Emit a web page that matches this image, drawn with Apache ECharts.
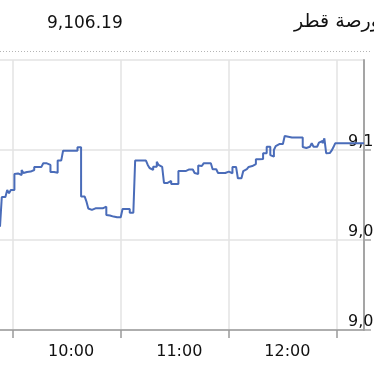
<!DOCTYPE html>
<html>
<head>
<meta charset="utf-8">
<script src="https://cdn.jsdelivr.net/npm/echarts@6/dist/echarts.min.js"></script>
<style>
html,body{margin:0;padding:0;background:#fff;}
#chart{width:374px;height:366px;}
</style>
</head>
<body>
<div id="chart"></div>
<script>
// Header
var titleText = "بورصة قطر";
var lastValue = "9,106.19";

// Time categories: one per minute from 9:23 to 12:45
var startMinute = 9 * 60 + 23;
var minuteCount = 203;
var times = [];
for (var k = 0; k < minuteCount; k++) {
  var m = startMinute + k;
  var hh = Math.floor(m / 60), mm = m % 60;
  times.push(hh + ":" + (mm < 10 ? "0" + mm : mm));
}

// Index values, one per minute
var values = [
  9057.4, 9073.9, 9073.9, 9073.9, 9077.8, 9075.9, 9077.8, 9077.8, 9086.7, 9087.0,
  9086.1, 9086.1, 9088.9, 9087.2, 9087.8, 9088.0, 9088.0, 9088.9, 9088.9, 9090.6,
  9090.6, 9090.6, 9090.6, 9091.1, 9092.6, 9092.6, 9091.7, 9091.7, 9087.8, 9087.8,
  9087.8, 9087.4, 9094.2, 9094.2, 9094.4, 9099.6, 9099.6, 9099.6, 9099.6, 9099.6,
  9099.6, 9099.6, 9099.6, 9101.5, 9101.5, 9074.1, 9074.1, 9073.2, 9071.3, 9067.5,
  9066.7, 9066.7, 9067.6, 9067.6, 9067.6, 9067.6, 9067.6, 9067.6, 9068.5, 9063.9,
  9063.6, 9063.3, 9063.0, 9062.8, 9062.6, 9062.6, 9062.6, 9062.6, 9067.2, 9067.2,
  9067.2, 9067.2, 9065.2, 9065.2, 9065.2, 9094.1, 9094.1, 9094.1, 9094.1, 9094.1,
  9094.1, 9094.8, 9091.7, 9090.0, 9088.9, 9090.7, 9090.7, 9093.5, 9091.7, 9090.6,
  9090.4, 9081.7, 9081.7, 9082.8, 9082.8, 9081.1, 9081.1, 9081.1, 9081.1, 9088.3,
  9088.3, 9088.5, 9088.3, 9088.0, 9089.2, 9088.9, 9089.2, 9089.3, 9087.2, 9086.7,
  9091.4, 9091.1, 9092.2, 9092.6, 9092.6, 9092.6, 9092.6, 9092.6, 9089.3, 9089.3,
  9089.3, 9087.2, 9087.2, 9087.4, 9087.2, 9087.1, 9088.0, 9087.8, 9087.1, 9090.6,
  9090.6, 9090.4, 9084.3, 9084.3, 9084.4, 9088.3, 9089.4, 9090.0, 9090.6, 9091.1,
  9091.1, 9092.2, 9094.8, 9094.8, 9094.8, 9095.0, 9098.2, 9098.2, 9101.8, 9101.8,
  9097.2, 9096.3, 9100.0, 9102.2, 9103.3, 9103.3, 9103.3, 9103.3, 9107.8, 9107.4,
  9107.0, 9107.0, 9107.0, 9107.0, 9107.0, 9107.0, 9107.0, 9107.0, 9101.7, 9101.1,
  9100.4, 9101.8, 9102.2, 9103.7, 9101.8, 9101.8, 9101.8, 9104.1, 9105.0, 9103.7,
  9106.5, 9098.2, 9098.3, 9098.9, 9099.6, 9101.5, 9103.7, 9103.7, 9103.7, 9103.7,
  9103.7, 9103.7, 9103.7, 9103.7, 9103.7, 9103.7, 9103.7, 9103.7, 9103.7, 9103.7,
  9103.7, 9103.7, 9103.7
];

// Axis settings
var yMin = 9000, yMax = 9150, yStep = 50;
var gridTimes = ["9:30", "10:30", "11:30", "12:30"];
var labelTimes = ["10:00", "11:00", "12:00"];

var FONT = "DejaVu Sans";
var chart = echarts.init(document.getElementById('chart'), null, {renderer: 'canvas'});
chart.setOption({
  animation: false,
  backgroundColor: '#ffffff',
  grid: {left: 0, right: 10, top: 60, bottom: 36, containLabel: false, outerBoundsMode: 'none'},
  graphic: [
    {type: 'text', left: 47, top: 15, style: {text: lastValue, font: '17px "' + FONT + '"', fill: '#111'}},
    {type: 'text', left: 294, top: 13, style: {text: titleText, font: '19px "' + FONT + '"', fill: '#111'}},
    {type: 'line', shape: {x1: 0, y1: 51.5, x2: 372, y2: 51.5}, style: {stroke: '#b5b5b5', lineWidth: 1, lineDash: [1, 2]}}
  ],
  xAxis: {
    type: 'category',
    data: times,
    boundaryGap: false,
    axisLine: {show: true, lineStyle: {color: '#9a9a9a', width: 1.5}},
    axisTick: {
      show: true, length: 8,
      interval: function (i, v) { return gridTimes.indexOf(v) >= 0; },
      lineStyle: {color: '#9a9a9a', width: 1.5}
    },
    splitLine: {
      show: true,
      interval: function (i, v) { return gridTimes.indexOf(v) >= 0; },
      lineStyle: {color: '#e3e3e3', width: 1.5}
    },
    axisLabel: {
      interval: function (i, v) { return labelTimes.indexOf(v) >= 0; },
      margin: 14,
      padding: [0, 0, 0, 9],
      fontFamily: FONT, fontSize: 16, color: '#111'
    }
  },
  yAxis: {
    type: 'value',
    position: 'right',
    min: yMin, max: yMax, interval: yStep,
    axisLine: {show: true, lineStyle: {color: '#a5a5a5', width: 2}},
    axisTick: {show: true, length: 7, lineStyle: {color: '#a5a5a5', width: 1.5}},
    splitLine: {show: true, lineStyle: {color: '#e3e3e3', width: 1.5}},
    axisLabel: {
      margin: -16,
      align: 'left',
      verticalAlign: 'bottom',
      showMaxLabel: false,
      fontFamily: FONT, fontSize: 16, color: '#111',
      formatter: function (v) { return v >= yMax ? '' : echarts.format.addCommas(v.toFixed(2)); }
    }
  },
  series: [{
    type: 'line',
    data: values,
    step: 'end',
    showSymbol: false,
    lineStyle: {color: '#4a6cb9', width: 2},
    clip: true
  }]
});
</script>
</body>
</html>
